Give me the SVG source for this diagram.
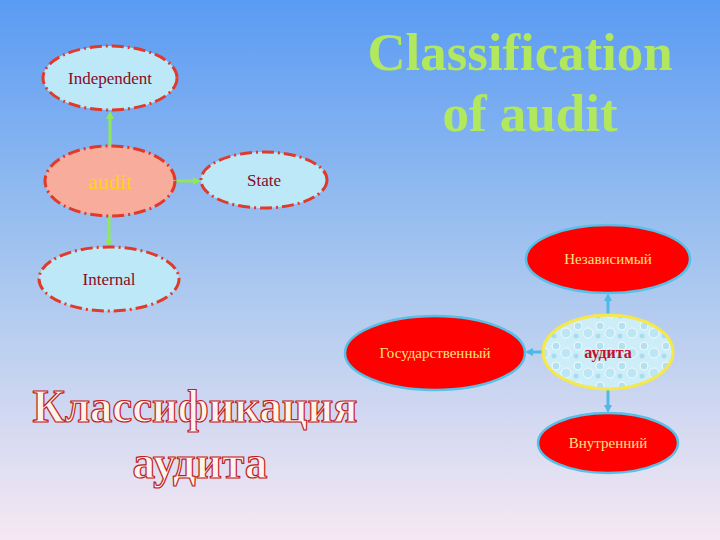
<svg xmlns="http://www.w3.org/2000/svg" width="720" height="540" viewBox="0 0 720 540">
<style>
.lt{fill:#bde8f8;stroke:#e03a2a;stroke-width:3;stroke-dasharray:12 4 2 4}
.rd{fill:#ff0000;stroke:#55c0e8;stroke-width:2.5}
.t1{font-family:"Liberation Serif",serif;font-size:17px;fill:#8a0a24;text-anchor:middle}
.t2{font-family:"Liberation Serif",serif;font-size:15px;fill:#ffe27a;text-anchor:middle}
.g{stroke:#8ee85a;stroke-width:3;fill:none}
.b{stroke:#50b8e8;stroke-width:3;fill:none}
.big{font-family:"Liberation Serif",serif;font-weight:bold;fill:#fff4ec;stroke:#c02020;stroke-width:1.2;text-anchor:middle}
</style>
<defs>
<linearGradient id="bg" x1="0" y1="0" x2="0" y2="1">
<stop offset="0" stop-color="#5a9bf3"/>
<stop offset="0.5" stop-color="#a6c6ef"/>
<stop offset="1" stop-color="#f6e8f3"/>
</linearGradient>
<pattern id="bub" width="22" height="20" patternUnits="userSpaceOnUse">
<rect width="22" height="20" fill="#cdeef8"/>
<circle cx="6" cy="6" r="4" fill="#b4e0f0" stroke="#eefaff" stroke-width="1"/>
<circle cx="16" cy="13" r="5" fill="#bde6f4" stroke="#eefaff" stroke-width="1"/>
<circle cx="4" cy="16" r="2.5" fill="#aadcef"/>
</pattern>
<marker id="ag" markerWidth="8" markerHeight="8" refX="5" refY="4" orient="auto" markerUnits="userSpaceOnUse"><path d="M0,0 L8,4 L0,8 z" fill="#8ee85a"/></marker>
<marker id="ab" markerWidth="8" markerHeight="8" refX="5" refY="4" orient="auto" markerUnits="userSpaceOnUse"><path d="M0,0 L8,4 L0,8 z" fill="#50b8e8"/></marker>
</defs>
<rect width="720" height="540" fill="url(#bg)"/>
<g id="connectors">
<line class="g" x1="110" y1="146" x2="110" y2="114" marker-end="url(#ag)"/>
<line class="g" x1="176" y1="181" x2="198" y2="181" marker-end="url(#ag)"/>
<line class="g" x1="109" y1="216" x2="109" y2="244" marker-end="url(#ag)"/>
<line class="b" x1="608" y1="316" x2="608" y2="296" marker-end="url(#ab)"/>
<line class="b" x1="543" y1="352" x2="528" y2="352" marker-end="url(#ab)"/>
<line class="b" x1="608" y1="388" x2="608" y2="410" marker-end="url(#ab)"/>
</g>
<g id="title-en">
<text x="520" y="70" font-family="Liberation Serif,serif" font-weight="bold" font-size="53" fill="#b2e85e" text-anchor="middle" textLength="305" lengthAdjust="spacingAndGlyphs">Classification</text>
<text x="530" y="131" font-family="Liberation Serif,serif" font-weight="bold" font-size="53" fill="#b2e85e" text-anchor="middle">of audit</text>
</g>
<g id="independent"><ellipse class="lt" cx="110" cy="78" rx="67" ry="32"/><text class="t1" x="110" y="84">Independent</text></g>
<g id="audit"><ellipse class="lt" cx="110" cy="181" rx="65" ry="35" style="fill:#f8ac9c"/><text x="110" y="189" font-family="Liberation Serif,serif" font-size="22" fill="#ffd21a" text-anchor="middle">audit</text></g>
<g id="state"><ellipse class="lt" cx="264" cy="180" rx="63" ry="28"/><text class="t1" x="264" y="186">State</text></g>
<g id="internal"><ellipse class="lt" cx="109" cy="279" rx="70" ry="32"/><text class="t1" x="109" y="285">Internal</text></g>
<g id="nezavisimyi"><ellipse class="rd" cx="608" cy="259" rx="82" ry="34"/><text class="t2" x="608" y="264">Независимый</text></g>
<g id="gosudarstvennyi"><ellipse class="rd" cx="435" cy="353" rx="90" ry="37"/><text class="t2" x="435" y="358">Государственный</text></g>
<g id="audita"><ellipse cx="608" cy="352" rx="65" ry="37" fill="url(#bub)" stroke="#f4e84a" stroke-width="3"/><text x="608" y="358" font-family="Liberation Serif,serif" font-weight="bold" font-size="16" fill="#c0102a" text-anchor="middle">аудита</text></g>
<g id="vnutrennii"><ellipse class="rd" cx="608" cy="443" rx="70" ry="30"/><text class="t2" x="608" y="448">Внутренний</text></g>
<g id="title-ru">
<text class="big" x="195" y="422" font-size="46" textLength="325" lengthAdjust="spacingAndGlyphs">Классификация</text>
<text class="big" x="200" y="478" font-size="46" textLength="135" lengthAdjust="spacingAndGlyphs">аудита</text>
</g>
</svg>
